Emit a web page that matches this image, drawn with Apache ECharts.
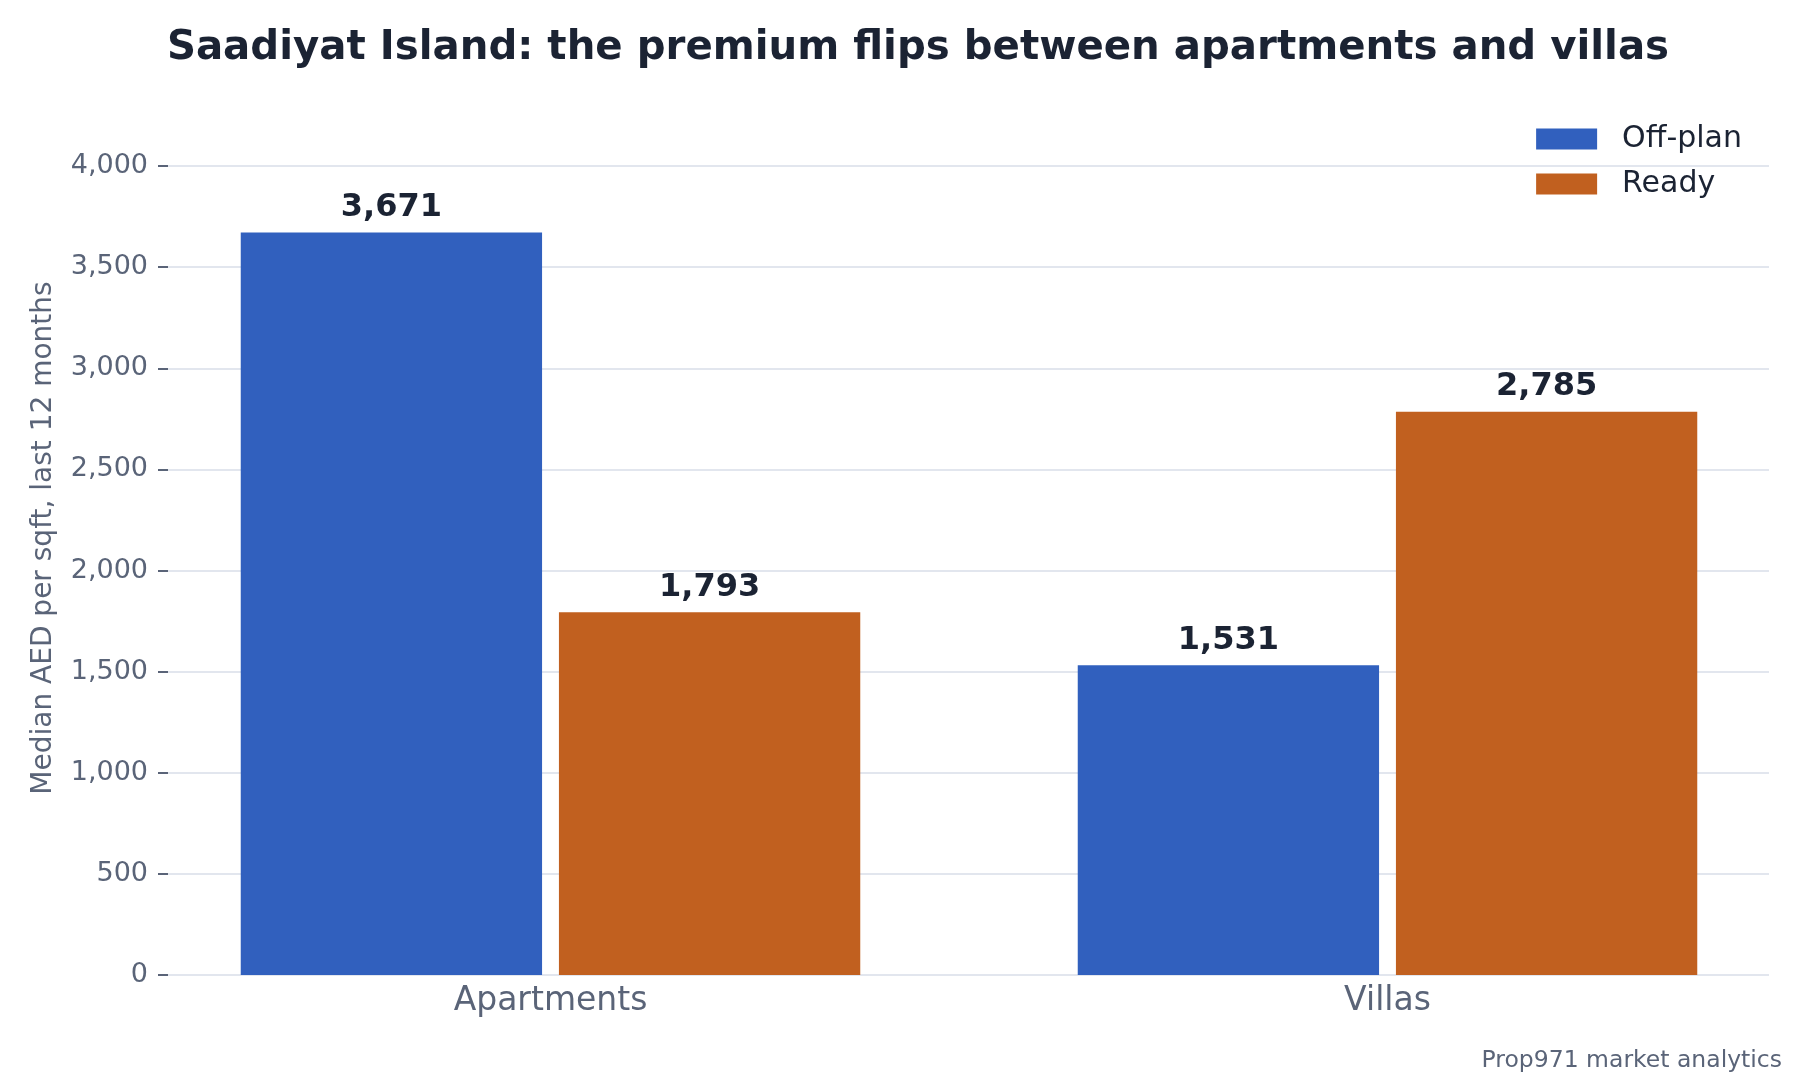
<!DOCTYPE html>
<html><head><meta charset="utf-8">
<script src="https://cdn.jsdelivr.net/npm/echarts@6/dist/echarts.min.js"></script>
<style>html,body{margin:0;padding:0;background:#fff}#c{width:1800px;height:1080px}</style>
</head><body><div id="c"></div>
<script>
const categories = ['Apartments', 'Villas'];
const seriesNames = ['Off-plan', 'Ready'];
const offPlan = [3671, 1531];
const ready = [1793, 2785];
const yAxisTitle = 'Median AED per sqft, last 12 months';
const chartTitle = 'Saadiyat Island: the premium flips between apartments and villas';
const footer = 'Prop971 market analytics';

const FONT = 'DejaVu Sans';
const DARK = '#1b2333';
const GREY = '#5a6478';
const fmt = v => Number(v).toLocaleString('en-US');

const chart = echarts.init(document.getElementById('c'), null, {renderer: 'canvas'});
const labelCfg = {
  show: true, position: 'top', distance: 9,
  formatter: p => fmt(p.value),
  fontFamily: FONT, fontSize: 32, fontWeight: 'bold', color: DARK
};
chart.setOption({
  animation: false,
  backgroundColor: '#ffffff',
  title: [
    {text: chartTitle, left: 913, textAlign: 'center', top: 24,
     textStyle: {fontFamily: FONT, fontSize: 40.3, fontWeight: 'bold', color: DARK}},
    {text: footer, right: 13, top: 1044,
     textStyle: {fontFamily: FONT, fontSize: 23.5, fontWeight: 'normal', color: GREY}}
  ],
  legend: {
    data: seriesNames, orient: 'vertical', right: 53, top: 119,
    itemWidth: 61, itemHeight: 21, itemGap: 15, icon: 'rect',
    textStyle: {fontFamily: FONT, fontSize: 30, color: DARK, padding: [0, 0, 0, 20]}
  },
  grid: [
    {left: 550.5, width: 837, top: 166, bottom: 105},
    {left: 168, right: 31, top: 166, bottom: 105},
    {left: 168, right: 31, top: 101, bottom: 105}
  ],
  xAxis: [
    {gridIndex: 0, type: 'category', data: categories, boundaryGap: false,
     axisLine: {show: false}, axisTick: {show: false}, splitLine: {show: false},
     axisLabel: {fontFamily: FONT, fontSize: 33, color: GREY, margin: 10}},
    {gridIndex: 1, type: 'category', data: categories, show: false},
    {gridIndex: 2, type: 'category', data: categories, show: false}
  ],
  yAxis: [
    {gridIndex: 0, type: 'value', min: 0, max: 4000, show: false},
    {gridIndex: 1, type: 'value', min: 0, max: 4000, interval: 500,
     axisLine: {show: false},
     axisTick: {show: true, length: 10, lineStyle: {color: GREY, width: 2}},
     axisLabel: {fontFamily: FONT, fontSize: 27, color: GREY, margin: 20, formatter: v => fmt(v)},
     splitLine: {show: true, lineStyle: {color: '#e2e6ee', width: 2}}},
    {gridIndex: 2, type: 'value', min: 0, max: 4000,
     axisLine: {show: false}, axisTick: {show: false}, axisLabel: {show: false}, splitLine: {show: false},
     name: yAxisTitle, nameLocation: 'middle', nameGap: 110,
     nameTextStyle: {fontFamily: FONT, fontSize: 28, color: GREY}}
  ],
  series: [
    {name: seriesNames[0], type: 'bar', xAxisIndex: 0, yAxisIndex: 0, data: offPlan, clip: false,
     barWidth: '36%', barGap: '5.6%', itemStyle: {color: '#3160be'}, label: labelCfg},
    {name: seriesNames[1], type: 'bar', xAxisIndex: 0, yAxisIndex: 0, data: ready, clip: false,
     barWidth: '36%', barGap: '5.6%', itemStyle: {color: '#c1601f'}, label: labelCfg}
  ]
});
</script></body></html>
